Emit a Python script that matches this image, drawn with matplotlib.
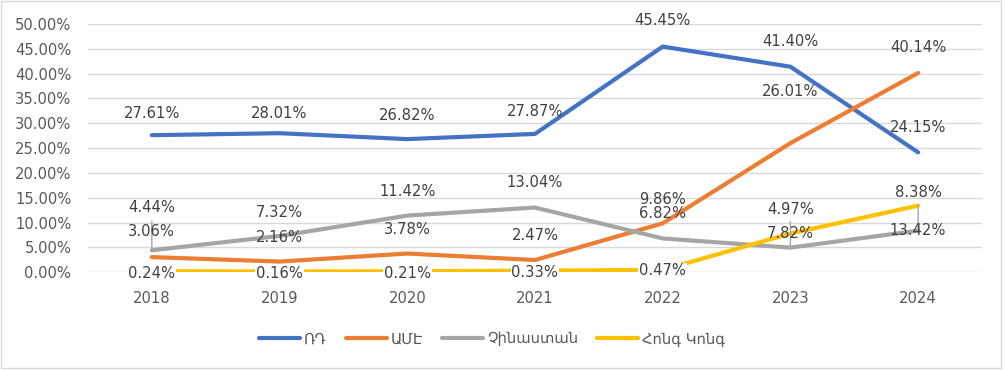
import matplotlib
matplotlib.use("Agg")
import matplotlib.pyplot as plt
from matplotlib.patches import Rectangle

plt.rcParams['font.family'] = ['DejaVu Sans']

years = ["2018", "2019", "2020", "2021", "2022", "2023", "2024"]
series_names = ["ՌԴ", "ԱՄԷ", "Չինաստան", "Հոնգ Կոնգ"]
rd = [27.61, 28.01, 26.82, 27.87, 45.45, 41.40, 24.15]
ame = [3.06, 2.16, 3.78, 2.47, 9.86, 26.01, 40.14]
china = [4.44, 7.32, 11.42, 13.04, 6.82, 4.97, 8.38]
hk = [0.24, 0.16, 0.21, 0.33, 0.47, 7.82, 13.42]
colors = ["#4472C4", "#ED7D31", "#A5A5A5", "#FFC000"]

# label vertical offsets (pixels, positive up) as placed in the original chart
label_off = [
    [22, 20, 24, 22, 26, 25, 25],
    [26, 24, 24, 25, 24, 52, 25],
    [43, 23, 24, 25, 25, 38, 38],
    [-2, -2, -2, -2, -1, 0, -25],
]
# leader lines: (series, index) -> end offset in pixels
leaders = {(2, 0): 29, (2, 5): 26, (3, 6): -24}
# labels drawn with an opaque white box
boxed = {(3, 0), (3, 1), (3, 2), (3, 3), (3, 4)}

FS = 10.6
dpi = 100
fig = plt.figure(figsize=(10.06, 3.70), dpi=dpi)
ax = fig.add_axes([88/1006, 1-272.3/370, 894/1006, 248.3/370])

x = list(range(len(years)))
all_series = [rd, ame, china, hk]
for s, (vals, c, name) in enumerate(zip(all_series, colors, series_names)):
    ax.plot(x, vals, color=c, lw=3, label=name, solid_capstyle='round', zorder=3)

ax.set_xlim(-0.5, len(years) - 0.5)
ax.set_ylim(0, 50)
ax.set_yticks(range(0, 51, 5))
ax.set_yticklabels([f"{v:.2f}%" for v in range(0, 51, 5)])
ax.set_xticks(x)
ax.set_xticklabels(years)
ax.grid(axis='y', color='#D9D9D9', lw=1)
ax.set_axisbelow(True)
for sp in ax.spines.values():
    sp.set_visible(False)
ax.tick_params(axis='both', length=0, labelsize=FS, colors='#595959')
ax.tick_params(axis='y', pad=12)
ax.tick_params(axis='x', pad=13.5)

pt = 72.0 / dpi
for s, vals in enumerate(all_series):
    for i, v in enumerate(vals):
        off = label_off[s][i]
        kw = {}
        if (s, i) in boxed:
            kw['bbox'] = dict(boxstyle='square,pad=0.05', fc='white', ec='none')
        ax.annotate(f"{v:.2f}%", (i, v), xytext=(0, off * pt), textcoords='offset points',
                    ha='center', va='center', fontsize=FS, color='#404040', zorder=5, **kw)
        if (s, i) in leaders:
            ax.annotate("", (i, v), xytext=(0, leaders[(s, i)] * pt), textcoords='offset points',
                        arrowprops=dict(arrowstyle='-', color='#A6A6A6', lw=1,
                                        shrinkA=0, shrinkB=0), zorder=4)

leg = fig.legend(loc='center', bbox_to_anchor=(492/1006, 1-339/370), ncol=4, frameon=False,
                 fontsize=FS, handlelength=2.8, handletextpad=0.25, columnspacing=1.3)
for t in leg.get_texts():
    t.set_color('#595959')

fig.patches.append(Rectangle((0.5/1006, 2/370), 1000/1006, 367/370, transform=fig.transFigure,
                             fill=False, edgecolor='#D9D9D9', lw=1))

fig.savefig("out.png", dpi=dpi)
